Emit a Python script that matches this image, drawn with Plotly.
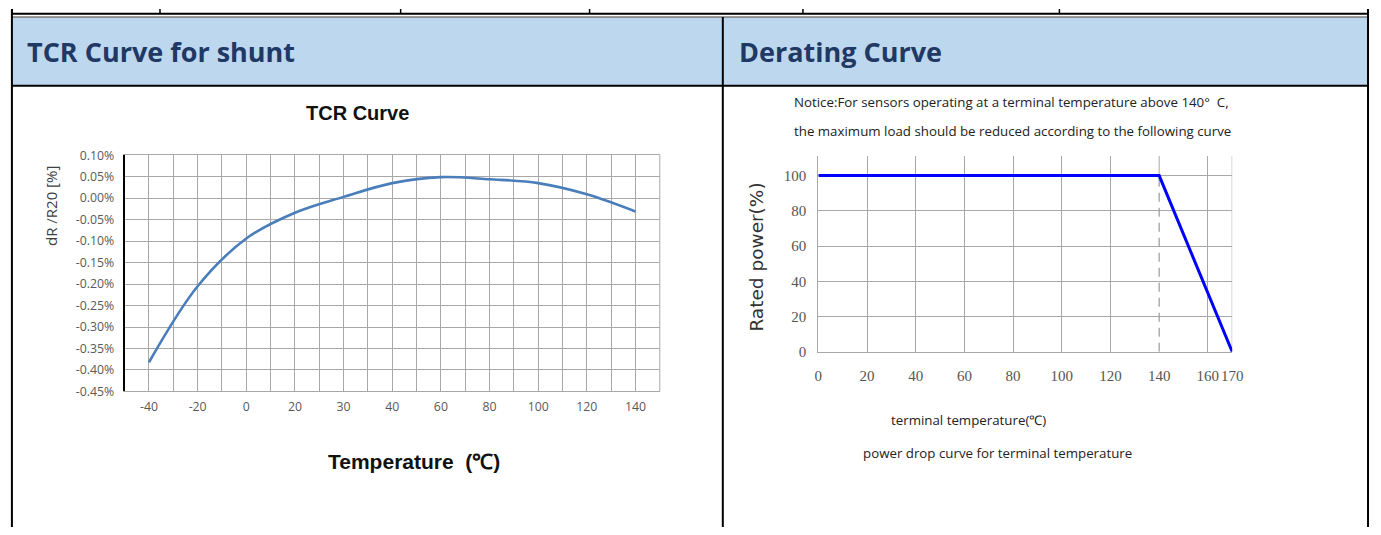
import plotly.graph_objects as go

W, H = 1381, 535

# ---------------- data ----------------
tcr_temps = ["-40", "-20", "0", "20", "30", "40", "60", "80", "100", "120", "140"]
tcr_dr = [-0.382, -0.205, -0.094, -0.034, 0.003, 0.035, 0.049, 0.044, 0.035, 0.009, -0.031]
tcr_yticks = [0.10, 0.05, 0.00, -0.05, -0.10, -0.15, -0.20, -0.25, -0.30, -0.35, -0.40, -0.45]
tcr_yticktext = ["0.10%", "0.05%", "0.00%", "-0.05%", "-0.10%", "-0.15%", "-0.20%",
                 "-0.25%", "-0.30%", "-0.35%", "-0.40%", "-0.45%"]

der_temp = [0, 140, 170]
der_power = [100, 100, 0]
der_xticks = [0, 20, 40, 60, 80, 100, 120, 140, 160, 170]
der_yticks = [0, 20, 40, 60, 80, 100]
der_knee = 140
der_ytop = 111.2

top_row_cols = [8, 157.7, 401, 592, 807.7, 1067, 1379]


def px(x):
    return x / W


def py(y):
    return 1 - y / H


fig = go.Figure()

tcr_idx = list(range(len(tcr_temps)))
fig.add_trace(go.Scatter(
    x=tcr_idx, y=tcr_dr, mode="lines",
    line=dict(color="#4A7EBB", width=2.6, shape="spline", smoothing=1.0),
    xaxis="x", yaxis="y", hoverinfo="skip"))

fig.add_trace(go.Scatter(
    x=[der_knee, der_knee], y=[0, der_power[1]], mode="lines",
    line=dict(color="#9A9A9A", width=1.2, dash="9px,6px"),
    xaxis="x2", yaxis="y2", hoverinfo="skip"))

fig.add_trace(go.Scatter(
    x=der_temp, y=der_power, mode="lines",
    line=dict(color="#0000FF", width=3),
    xaxis="x2", yaxis="y2", hoverinfo="skip"))

grid_c = "#A8A8A8"
tick_font_l = dict(family="Open Sans", size=12.3, color="#595959")
serif = dict(family="Liberation Serif", size=15, color="#555555")

layout = dict(
    width=W, height=H, autosize=False,
    margin=dict(l=0, r=0, t=0, b=0),
    paper_bgcolor="white", plot_bgcolor="white",
    showlegend=False,
    xaxis=dict(
        domain=[px(122), px(663)], range=[-0.5, len(tcr_temps) - 0.5],
        tickvals=tcr_idx, ticktext=tcr_temps, tickfont=tick_font_l, tickangle=0,
        ticklabelstandoff=4,
        showgrid=True, gridcolor=grid_c, gridwidth=1,
        minor=dict(tickvals=[i - 0.5 for i in range(len(tcr_temps) + 1)],
                   showgrid=True, gridcolor=grid_c, gridwidth=1),
        showline=True, linecolor=grid_c, linewidth=1, mirror=True,
        ticks="", zeroline=False, fixedrange=True),
    yaxis=dict(
        domain=[py(395), py(151)], range=[-0.45, 0.10],
        tickvals=tcr_yticks, ticktext=tcr_yticktext, tickfont=tick_font_l,
        ticklabelstandoff=6,
        showgrid=True, gridcolor=grid_c, gridwidth=1,
        showline=True, linecolor="black", linewidth=2,
        ticks="", zeroline=False, fixedrange=True, anchor="x"),
    xaxis2=dict(
        domain=[px(823.3), px(1241.7)], range=[0, 170], anchor="y2",
        tickvals=der_xticks, tickfont=serif, tickangle=0,
        ticklabelstandoff=10,
        showgrid=False,
        minor=dict(tickvals=[t for t in der_xticks if t != der_knee],
                   showgrid=True, gridcolor=grid_c, gridwidth=1),
        showline=True, linecolor=grid_c, linewidth=1,
        ticks="", zeroline=False, fixedrange=True),
    yaxis2=dict(
        domain=[py(354), py(151.7)], range=[0, der_ytop], anchor="x2",
        tickvals=der_yticks, tickfont=serif,
        ticklabelstandoff=8,
        showgrid=True, gridcolor=grid_c, gridwidth=1,
        showline=True, linecolor=grid_c, linewidth=1,
        ticks="", zeroline=False, fixedrange=True),
)
fig.update_layout(**layout)

shapes = []
# header fill
shapes.append(dict(type="rect", xref="paper", yref="paper",
                   x0=px(8), x1=px(1379), y0=py(78.5), y1=py(9),
                   fillcolor="#BDD7EE", line=dict(width=0), layer="below"))
# top row cell dividers
for c in top_row_cols:
    shapes.append(dict(type="line", xref="paper", yref="paper",
                       x0=px(c), x1=px(c), y0=py(0), y1=py(5),
                       line=dict(color="black", width=1.5)))
# double rule above header
shapes.append(dict(type="line", xref="paper", yref="paper",
                   x0=px(8), x1=px(1379), y0=py(5), y1=py(5),
                   line=dict(color="black", width=2)))
shapes.append(dict(type="line", xref="paper", yref="paper",
                   x0=px(8), x1=px(1379), y0=py(8.3), y1=py(8.3),
                   line=dict(color="#333333", width=1)))
# rule below header
shapes.append(dict(type="line", xref="paper", yref="paper",
                   x0=px(8), x1=px(1379), y0=py(79.3), y1=py(79.3),
                   line=dict(color="black", width=2)))
# outer borders and middle divider
for c in [8, 1379]:
    shapes.append(dict(type="line", xref="paper", yref="paper",
                       x0=px(c), x1=px(c), y0=py(0), y1=py(535),
                       line=dict(color="black", width=2)))
shapes.append(dict(type="line", xref="paper", yref="paper",
                   x0=px(726.7), x1=px(726.7), y0=py(8.3), y1=py(535),
                   line=dict(color="black", width=2)))
# TCR plot right border
shapes.append(dict(type="line", xref="x domain", yref="y domain",
                   x0=1, x1=1, y0=0, y1=1, line=dict(color=grid_c, width=1)))
# derating: solid part of the knee gridline above 100 %, and right edge
shapes.append(dict(type="line", xref="x2", yref="y2",
                   x0=der_knee, x1=der_knee, y0=der_power[1], y1=der_ytop,
                   line=dict(color=grid_c, width=1), layer="below"))
shapes.append(dict(type="line", xref="x2", yref="y2",
                   x0=der_xticks[-1], x1=der_xticks[-1], y0=0, y1=der_ytop,
                   line=dict(color=grid_c, width=1), layer="below"))
fig.update_layout(shapes=shapes)

hdr = dict(family="Open Sans", size=27, color="#1F3864")
note_font = dict(family="Open Sans", size=13.3, color="#222222")
ann = [
    dict(text="<b>TCR Curve for shunt</b>", x=px(21), y=py(44), xanchor="left", yanchor="middle",
         font=hdr),
    dict(text="<b>Derating Curve</b>", x=px(741), y=py(44), xanchor="left", yanchor="middle",
         font=hdr),
    dict(text="<b>TCR Curve</b>", x=px(357), y=py(107), xanchor="center", yanchor="middle",
         font=dict(family="Liberation Sans", size=20, color="#111111")),
    dict(text="dR /R20 [%]", x=px(47), y=py(203), xanchor="center", yanchor="middle",
         textangle=-90, font=dict(family="Open Sans", size=15, color="#404040")),
    dict(text="<b>Temperature  (℃)</b>", x=px(414), y=py(467), xanchor="center", yanchor="middle",
         font=dict(family="Liberation Sans", size=21, color="#111111")),
    dict(text="Notice:For sensors operating at a terminal temperature above 140°\u00a0 C,",
         x=px(797), y=py(96), xanchor="left", yanchor="middle", font=note_font),
    dict(text="the maximum load should be reduced according to the following curve",
         x=px(797), y=py(126), xanchor="left", yanchor="middle", font=note_font),
    dict(text="Rated power(%)", x=px(761), y=py(256), xanchor="center", yanchor="middle",
         textangle=-90, font=dict(family="DejaVu Sans", size=18.5, color="#333333")),
    dict(text="terminal temperature(℃)", x=px(975), y=py(425), xanchor="center", yanchor="middle",
         font=note_font),
    dict(text="power drop curve for terminal temperature", x=px(1004), y=py(459),
         xanchor="center", yanchor="middle", font=note_font),
]
for a in ann:
    a.setdefault("xref", "paper")
    a.setdefault("yref", "paper")
    a.setdefault("showarrow", False)
fig.update_layout(annotations=ann)

post = (
    "var d=document.getElementById('{plot_id}');"
    "d.style.position='fixed';d.style.left='0px';d.style.top='0px';"
    "document.documentElement.style.overflow='hidden';"
    "document.body.style.margin='0';document.body.style.overflow='hidden';"
)
fig.write_html(
    "out.html",
    config={"displayModeBar": False, "responsive": False},
    post_script=post,
)
